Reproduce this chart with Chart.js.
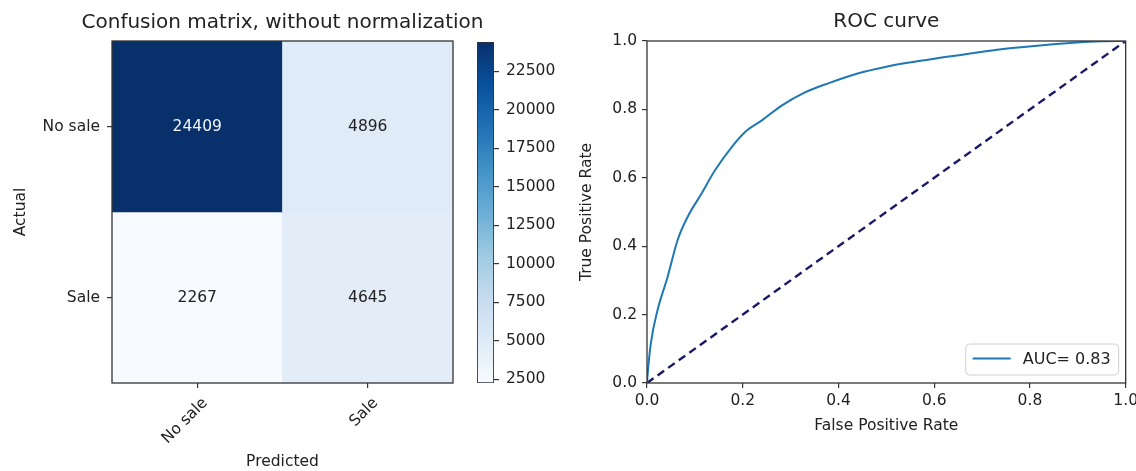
<!DOCTYPE html>
<html><head><meta charset="utf-8">
<script src="https://cdn.jsdelivr.net/npm/chart.js@4"></script>
<style>
html,body{margin:0;padding:0;background:#fff;overflow:hidden;width:1136px;height:471px;position:relative;}
canvas{position:absolute;top:0;}
#cm{left:0;} #cb{left:470px;} #roc{left:568px;}
</style></head><body>
<canvas id="cm" width="570" height="471"></canvas>
<canvas id="cb" width="95" height="471"></canvas>
<canvas id="roc" width="574" height="471"></canvas>
<script>
// ---- data ----
const cmTitle = 'Confusion matrix, without normalization';
const actualLabels = ['No sale', 'Sale'];
const predictedLabels = ['No sale', 'Sale'];
const matrixRowNoSale = [24409, 4896];
const matrixRowSale = [2267, 4645];
const colorbarTicks = [2500, 5000, 7500, 10000, 12500, 15000, 17500, 20000, 22500];
const fpr = [0, 0.001, 0.008, 0.022, 0.043, 0.064, 0.085, 0.114, 0.142, 0.177, 0.205, 0.24, 0.282, 0.33, 0.38, 0.44, 0.5, 0.59, 0.67, 0.74, 0.82, 0.89, 0.95, 1.0];
const tpr = [0, 0.02, 0.116, 0.213, 0.31, 0.418, 0.486, 0.554, 0.622, 0.69, 0.734, 0.768, 0.812, 0.85, 0.877, 0.905, 0.925, 0.946, 0.962, 0.976, 0.987, 0.995, 0.999, 1.0];
const chanceX = [0, 1];
const chanceY = [0, 1];
const rocTicks = [0, 0.2, 0.4, 0.6, 0.8, 1.0];
const aucLabel = 'AUC= 0.83';

// ---- helpers ----
const FONT = '"DejaVu Sans", sans-serif';
const TXT = '#222';
const AXIS = '#333';
Chart.defaults.font.family = FONT;
Chart.defaults.font.size = 15.5;
Chart.defaults.color = TXT;

const bluesStops = [
  [0.0, '#f7fbff'], [0.125, '#deebf7'], [0.25, '#c6dbef'], [0.375, '#9ecae1'],
  [0.5, '#6baed6'], [0.625, '#4292c6'], [0.75, '#2171b5'], [0.875, '#08519c'], [1.0, '#08306b']
];
function hex2rgb(h){return [parseInt(h.substr(1,2),16),parseInt(h.substr(3,2),16),parseInt(h.substr(5,2),16)];}
function blues(t){
  t = Math.max(0, Math.min(1, t));
  for (let k = 1; k < bluesStops.length; k++) {
    const [t1, c1] = bluesStops[k];
    if (t <= t1) {
      const [t0, c0] = bluesStops[k-1];
      const f = (t - t0) / (t1 - t0);
      const a = hex2rgb(c0), b = hex2rgb(c1);
      return 'rgb(' + a.map((v, i) => Math.round(v + (b[i]-v)*f)).join(',') + ')';
    }
  }
  return bluesStops[bluesStops.length-1][1];
}

const matrix = [matrixRowNoSale, matrixRowSale];
const allVals = matrix.flat();
const vmin = Math.min(...allVals), vmax = Math.max(...allVals);
const thresh = vmax / 2;

const framePlugin = {
  id: 'frame',
  afterDatasetsDraw(chart){
    const {ctx, chartArea: a} = chart;
    ctx.save();
    ctx.strokeStyle = AXIS; ctx.lineWidth = 1.3;
    ctx.strokeRect(a.left, a.top, a.right - a.left, a.bottom - a.top);
    ctx.restore();
  }
};

const cellTextPlugin = {
  id: 'cellText',
  afterDatasetsDraw(chart){
    const {ctx, scales: {x, y}} = chart;
    ctx.save();
    ctx.font = '15.5px ' + FONT;
    ctx.textAlign = 'center'; ctx.textBaseline = 'middle';
    matrix.forEach((row, i) => row.forEach((v, j) => {
      ctx.fillStyle = v > thresh ? '#f2f6fa' : TXT;
      ctx.fillText(String(v), x.getPixelForValue(j), y.getPixelForValue(i));
    }));
    ctx.restore();
  }
};

// title centred over the plot area, allowed to overhang it (like matplotlib)
const areaTitlePlugin = {
  id: 'areaTitle',
  afterDraw(chart){
    const {ctx, chartArea: a} = chart;
    ctx.save();
    ctx.font = '20px ' + FONT;
    ctx.fillStyle = TXT; ctx.textAlign = 'center'; ctx.textBaseline = 'middle';
    ctx.fillText(cmTitle, (a.left + a.right) / 2, a.top - 18);
    ctx.restore();
  }
};

const tickGrid = {drawOnChartArea: false, drawTicks: true, tickLength: 5, color: AXIS, lineWidth: 1.2};
const titleFont = {size: 20, weight: 'normal'};

// ---- confusion matrix ----
new Chart(document.getElementById('cm'), {
  type: 'bar',
  data: {
    labels: predictedLabels,
    datasets: matrix.map((row, i) => ({
      label: actualLabels[i],
      data: row.map(() => [i - 0.5, i + 0.5]),
      backgroundColor: row.map(v => blues((v - vmin) / (vmax - vmin))),
      borderWidth: 0,
      barPercentage: 1, categoryPercentage: 1, grouped: false
    }))
  },
  options: {
    responsive: false, animation: false, devicePixelRatio: 1,
    layout: {padding: {left: 0, right: 117, top: 41, bottom: 0}},
    plugins: {legend: {display: false}, tooltip: {enabled: false}},
    scales: {
      x: {
        type: 'category', offset: true,
        grid: Object.assign({offset: false}, tickGrid),
        border: {display: false},
        ticks: {minRotation: 45, maxRotation: 45, padding: 6, labelOffset: 8, color: TXT},
        title: {display: true, text: 'Predicted', color: TXT, padding: {top: 0, bottom: 0}},
        afterFit: s => { s.height = 88; }
      },
      y: {
        type: 'linear', min: -0.5, max: 1.5, reverse: true,
        afterBuildTicks: s => { s.ticks = actualLabels.map((_, i) => ({value: i})); },
        ticks: {callback: v => actualLabels[Math.round(v)], padding: 7, color: TXT},
        grid: tickGrid,
        border: {display: false},
        title: {display: true, text: 'Actual', color: TXT, padding: {top: 12, bottom: 0}},
        afterFit: s => { s.width = 112; }
      }
    }
  },
  plugins: [cellTextPlugin, framePlugin, areaTitlePlugin]
});

// ---- colorbar ----
new Chart(document.getElementById('cb'), {
  type: 'bar',
  data: {
    labels: [''],
    datasets: [{
      data: [[vmin, vmax]],
      backgroundColor: c => {
        const a = c.chart.chartArea;
        if (!a) return blues(0.5);
        const g = c.chart.ctx.createLinearGradient(0, a.bottom, 0, a.top);
        bluesStops.forEach(([t, col]) => g.addColorStop(t, col));
        return g;
      },
      borderColor: AXIS, borderWidth: 1.2, borderSkipped: false,
      barPercentage: 1, categoryPercentage: 1
    }]
  },
  options: {
    responsive: false, animation: false, devicePixelRatio: 1,
    layout: {padding: {left: 7, right: 0, top: 42, bottom: 88}},
    plugins: {legend: {display: false}, tooltip: {enabled: false}},
    scales: {
      x: {display: false, offset: true},
      y: {
        position: 'right', min: vmin, max: vmax,
        afterBuildTicks: s => { s.ticks = colorbarTicks.map(v => ({value: v})); },
        ticks: {callback: v => String(v), padding: 7, color: TXT},
        grid: tickGrid, border: {display: false},
        afterFit: s => { s.width = 71; }
      }
    }
  }
});

// ---- ROC ----
const innerLegend = {
  id: 'innerLegend',
  afterDraw(chart){
    const ds = chart.data.datasets[0];
    const {ctx, chartArea: a} = chart;
    ctx.save();
    ctx.font = '16px ' + FONT;
    const tw = ctx.measureText(ds.label).width;
    const h = 31, w = 7 + 38 + 12 + tw + 8;
    const right = a.right - 7, bottom = a.bottom - 8;
    const left = right - w, top = bottom - h;
    const r = 4;
    ctx.beginPath();
    ctx.moveTo(left + r, top); ctx.lineTo(right - r, top); ctx.quadraticCurveTo(right, top, right, top + r);
    ctx.lineTo(right, bottom - r); ctx.quadraticCurveTo(right, bottom, right - r, bottom);
    ctx.lineTo(left + r, bottom); ctx.quadraticCurveTo(left, bottom, left, bottom - r);
    ctx.lineTo(left, top + r); ctx.quadraticCurveTo(left, top, left + r, top);
    ctx.closePath();
    ctx.fillStyle = 'rgba(255,255,255,0.85)'; ctx.fill();
    ctx.strokeStyle = '#d0d0d0'; ctx.lineWidth = 1; ctx.stroke();
    const cy = top + h / 2;
    ctx.strokeStyle = ds.borderColor; ctx.lineWidth = ds.borderWidth;
    ctx.beginPath(); ctx.moveTo(left + 7, cy - 1); ctx.lineTo(left + 45, cy - 1); ctx.stroke();
    ctx.fillStyle = TXT; ctx.textAlign = 'left'; ctx.textBaseline = 'middle';
    ctx.fillText(ds.label, left + 57, cy);
    ctx.restore();
  }
};

new Chart(document.getElementById('roc'), {
  type: 'line',
  data: {
    datasets: [
      {label: aucLabel, data: fpr.map((x, i) => ({x: x, y: tpr[i]})),
       borderColor: '#1f77b4', borderWidth: 2, pointRadius: 0, cubicInterpolationMode: 'monotone', fill: false},
      {label: 'chance', data: chanceX.map((x, i) => ({x: x, y: chanceY[i]})),
       borderColor: '#1a1a66', borderWidth: 2.4, borderDash: [8, 5], pointRadius: 0, tension: 0, fill: false}
    ]
  },
  options: {
    responsive: false, animation: false, devicePixelRatio: 1,
    layout: {padding: {left: 0, right: 15, top: 0, bottom: 0}},
    plugins: {
      legend: {display: false}, tooltip: {enabled: false},
      title: {display: true, text: 'ROC curve', fullSize: false,
        font: titleFont, color: TXT, padding: {top: 10, bottom: 7}}
    },
    scales: {
      x: {
        type: 'linear', min: 0, max: 1,
        afterBuildTicks: s => { s.ticks = rocTicks.map(v => ({value: v})); },
        ticks: {callback: v => v.toFixed(1), padding: 4, maxRotation: 0, color: TXT},
        grid: tickGrid, border: {display: false},
        title: {display: true, text: 'False Positive Rate', color: TXT, padding: {top: 0, bottom: 36}},
        afterFit: s => { s.height = 88; }
      },
      y: {
        type: 'linear', min: 0, max: 1,
        afterBuildTicks: s => { s.ticks = rocTicks.map(v => ({value: v})); },
        ticks: {callback: v => v.toFixed(1), padding: 5, color: TXT},
        grid: tickGrid, border: {display: false},
        title: {display: true, text: 'True Positive Rate', color: TXT, padding: {top: 10, bottom: 0}},
        afterFit: s => { s.width = 79; }
      }
    }
  },
  plugins: [framePlugin, innerLegend]
});
</script>
</body></html>
